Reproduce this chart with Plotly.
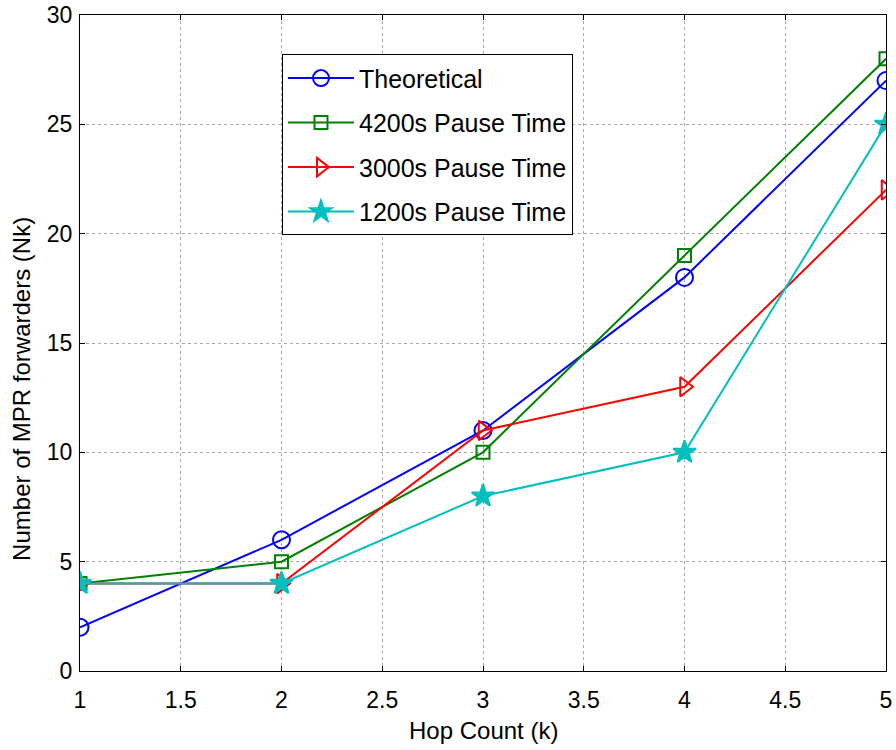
import plotly.graph_objects as go

hop_count = [1, 2, 3, 4, 5]
theoretical = [2, 6, 11, 18, 27]
pause_4200 = [4, 5, 10, 19, 28]
pause_3000 = [4, 4, 11, 13, 22]
pause_1200 = [4, 4, 8, 10, 25]

x_ticks = [1, 1.5, 2, 2.5, 3, 3.5, 4, 4.5, 5]
y_ticks = [0, 5, 10, 15, 20, 25, 30]

FONT = "Liberation Sans, Arial, sans-serif"

series = [
    ("Theoretical", theoretical, "#0000ff", "circle-open", 17),
    ("4200s Pause Time", pause_4200, "#008000", "square-open", 13),
    ("3000s Pause Time", pause_3000, "#ff0000", "triangle-right-open", 17),
    ("1200s Pause Time", pause_1200, "#00bfbf", "star", 17),
]

fig = go.Figure()
for i, (name, vals, color, symbol, size) in enumerate(series):
    fig.add_trace(go.Scatter(
        x=hop_count, y=vals, name=name, mode="lines+markers",
        legendgroup=f"g{i}",
        line=dict(color=color, width=2),
        marker=dict(symbol=symbol, size=size, color=color,
                    line=dict(color=color, width=2)),
    ))

axis_common = dict(
    showline=True, linecolor="black", linewidth=1, mirror="ticks",
    ticks="inside", ticklen=5, tickcolor="black",
    showgrid=True, gridcolor="#a8a8a8", griddash="dot", gridwidth=1,
    zeroline=False, automargin=False,
    tickfont=dict(family=FONT, size=23, color="black"),
)

fig.update_xaxes(range=[1, 5], tickvals=x_ticks,
                 ticktext=[f"{v:g}" for v in x_ticks],
                 ticklabelstandoff=8, **axis_common)
fig.update_yaxes(range=[0, 30], tickvals=y_ticks,
                 ticklabelstandoff=2, **axis_common)

# axis labels
fig.add_annotation(text="Hop Count (k)", xref="paper", yref="paper",
                   x=0.5, y=-0.09, xanchor="center", yanchor="middle",
                   showarrow=False, font=dict(family=FONT, size=24, color="black"))
fig.add_annotation(text="Number of MPR forwarders (Nk)", xref="paper", yref="paper",
                   x=-0.072, y=0.43, xanchor="center", yanchor="middle",
                   textangle=-90, showarrow=False,
                   font=dict(family=FONT, size=24, color="black"))

fig.update_layout(
    width=896, height=750,
    margin=dict(l=80, r=10, t=15, b=79),
    plot_bgcolor="white", paper_bgcolor="white",
    font=dict(family=FONT, color="black"),
    showlegend=True,
    legend=dict(
        x=0.2506, y=0.94, xanchor="left", yanchor="top",
        bgcolor="white", bordercolor="black", borderwidth=1,
        font=dict(family=FONT, size=25, color="black"),
        tracegroupgap=9, itemwidth=66,
    ),
)

fig.write_html("out.html")
